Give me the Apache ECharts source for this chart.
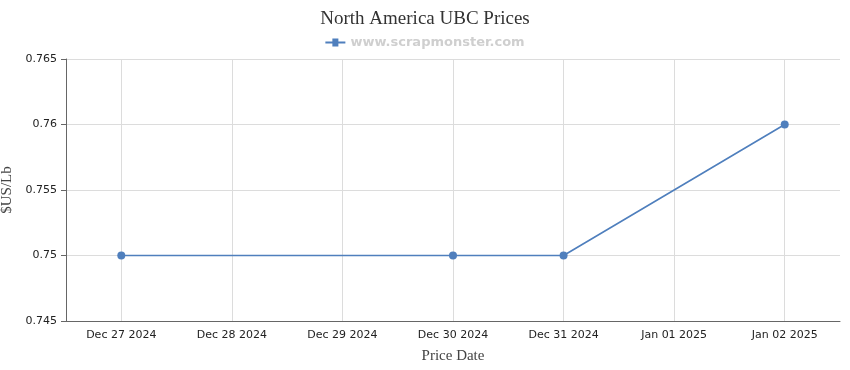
<!DOCTYPE html>
<html>
<head>
<meta charset="utf-8">
<script src="https://cdn.jsdelivr.net/npm/echarts@6/dist/echarts.min.js"></script>
<style>html,body{margin:0;padding:0;background:#fff;}#main{width:850px;height:370px;}</style>
</head>
<body>
<div id="main"></div>
<script>
const titleText = 'North America UBC Prices';
const seriesName = 'www.scrapmonster.com';
const categories = ['Dec 27 2024', 'Dec 28 2024', 'Dec 29 2024', 'Dec 30 2024', 'Dec 31 2024', 'Jan 01 2025', 'Jan 02 2025'];
const prices = [0.75, null, null, 0.75, 0.75, null, 0.76];
const yMin = 0.745, yMax = 0.765, yStep = 0.005;

const chart = echarts.init(document.getElementById('main'), null, {renderer: 'canvas'});
chart.setOption({
  animation: false,
  backgroundColor: '#fff',
  title: {
    text: titleText, left: 'center', top: 5,
    textStyle: {fontFamily: 'Liberation Serif', fontSize: 19, fontWeight: 'normal', color: '#333'}
  },
  legend: {
    top: 31, left: 'center', itemWidth: 20, itemHeight: 8,
    data: [{name: seriesName, icon: 'path://M0,3 L7,3 L7,0 L13,0 L13,3 L20,3 L20,5 L13,5 L13,8 L7,8 L7,5 L0,5 Z'}],
    textStyle: {fontFamily: 'Verdana, DejaVu Sans', fontSize: 13, fontWeight: 'bold', color: '#cfcfcf'}
  },
  grid: {left: 66, right: 10, top: 59, bottom: 49, containLabel: false, outerBoundsMode: 'none'},
  xAxis: {
    type: 'category', data: categories, boundaryGap: true,
    name: 'Price Date', nameLocation: 'middle', nameGap: 28,
    nameTextStyle: {fontFamily: 'Liberation Serif', fontSize: 15, color: '#444'},
    axisLine: {lineStyle: {color: '#666', width: 1}},
    axisTick: {alignWithLabel: true, length: 5, lineStyle: {color: '#666'}},
    axisLabel: {fontFamily: 'Verdana, DejaVu Sans', fontSize: 11, color: '#222', margin: 9},
    splitLine: {show: true, alignWithLabel: true, lineStyle: {color: '#dcdcdc'}}
  },
  yAxis: {
    type: 'value', min: yMin, max: yMax, interval: yStep,
    name: '$US/Lb', nameLocation: 'middle', nameGap: 46, nameRotate: 90,
    nameTextStyle: {fontFamily: 'Liberation Serif', fontSize: 15, color: '#444'},
    axisLine: {show: true, lineStyle: {color: '#666'}},
    axisTick: {show: true, length: 5, lineStyle: {color: '#666'}},
    axisLabel: {fontFamily: 'Verdana, DejaVu Sans', fontSize: 11, color: '#222', margin: 9,
      formatter: v => String(parseFloat(v.toFixed(3)))},
    splitLine: {show: true, lineStyle: {color: '#dcdcdc'}}
  },
  series: [{
    name: seriesName, type: 'line', data: prices, connectNulls: true,
    symbol: 'circle', symbolSize: 8, showSymbol: true,
    itemStyle: {color: '#4f7fbd'},
    lineStyle: {color: '#4f7fbd', width: 1.6}
  }]
});
</script>
</body>
</html>
